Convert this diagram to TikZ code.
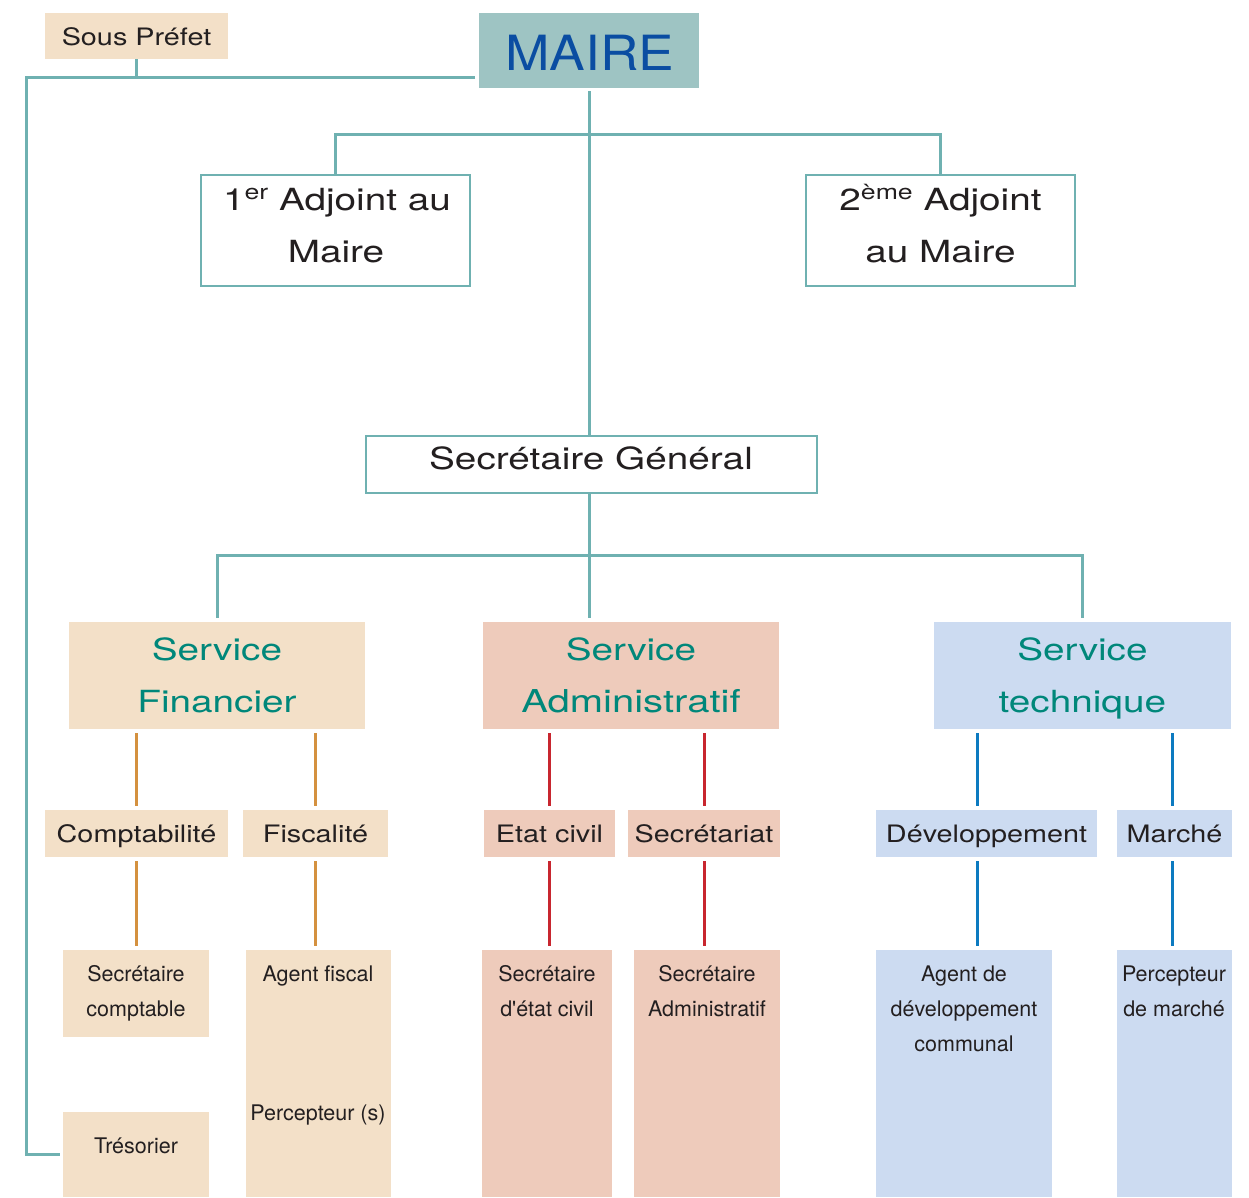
\documentclass[tikz,border=0pt]{standalone}
\usepackage{fontspec}
\setmainfont{TeX Gyre Heros}
\newfontfamily\mairef{TeX Gyre Heros}[FakeStretch=1.1]
\newfontfamily\widef{TeX Gyre Heros}[FakeStretch=1.27]
\newfontfamily\midf{TeX Gyre Heros}[FakeStretch=1.2]
\definecolor{cbeige}{HTML}{F3E0C8}
\definecolor{csalmon}{HTML}{EECBBB}
\definecolor{cblue}{HTML}{CCDBF1}
\definecolor{cmairebg}{HTML}{9EC4C3}
\definecolor{cmairetx}{HTML}{0A4DA2}
\definecolor{cteal}{HTML}{6FB1B1}
\definecolor{cserv}{HTML}{00877A}
\definecolor{corange}{HTML}{D4913F}
\definecolor{cred}{HTML}{C8262F}
\definecolor{cline}{HTML}{0C7AC0}
\definecolor{ctext}{HTML}{231F20}
\begin{document}
\begin{tikzpicture}[x=1pt,y=-1pt,
  bx/.style={rectangle, inner sep=0pt, outer sep=0pt, anchor=north west},
  beigebox/.style={bx, fill=cbeige},
  salmonbox/.style={bx, fill=csalmon},
  bluebox/.style={bx, fill=cblue},
  outbox/.style={bx, draw=cteal, line width=2.5pt, fill=white},
  lbl/.style={anchor=base, inner sep=0pt, text=ctext},
  fmaire/.style={lbl, font=\mairef\fontsize{48.5}{48.5}\selectfont, text=cmairetx},
  fwide/.style={lbl, font=\widef\fontsize{30.5}{30.5}\selectfont},
  fserv/.style={lbl, font=\widef\fontsize{30.5}{30.5}\selectfont, text=cserv},
  fmid/.style={lbl, font=\midf\fontsize{24}{24}\selectfont},
  fsmall/.style={lbl, font=\fontsize{21.5}{21.5}\selectfont},
  tealln/.style={draw=cteal, line width=3pt},
  orln/.style={draw=corange, line width=3pt, shorten <=4pt, shorten >=4pt},
  redln/.style={draw=cred, line width=3pt, shorten <=4pt, shorten >=4pt},
  blueln/.style={draw=cline, line width=3pt, shorten <=4pt, shorten >=4pt}
]
\useasboundingbox (0,0) rectangle (1249,1197);

% ---- boxes ----
\node[beigebox, minimum width=183pt, minimum height=46pt] (sp) at (45,13) {};
\node[bx, fill=cmairebg, minimum width=220pt, minimum height=75pt] (maire) at (479,13) {};
\node[outbox, minimum width=269pt, minimum height=111pt] (a1) at (201,175) {};
\node[outbox, minimum width=269pt, minimum height=111pt] (a2) at (806,175) {};
\node[outbox, minimum width=451pt, minimum height=57pt] (sg) at (366,436) {};

\node[beigebox, minimum width=296pt, minimum height=107pt] (sf) at (69,622) {};
\node[salmonbox, minimum width=296pt, minimum height=107pt] (sadm) at (483,622) {};
\node[bluebox, minimum width=297pt, minimum height=107pt] (st) at (934,622) {};

\node[beigebox, minimum width=183pt, minimum height=47pt] (comp) at (45,810) {};
\node[beigebox, minimum width=145pt, minimum height=47pt] (fisc) at (243,810) {};
\node[salmonbox, minimum width=131pt, minimum height=47pt] (etat) at (484,810) {};
\node[salmonbox, minimum width=152pt, minimum height=47pt] (secr) at (628,810) {};
\node[bluebox, minimum width=221pt, minimum height=47pt] (dev) at (876,810) {};
\node[bluebox, minimum width=115pt, minimum height=47pt] (mar) at (1117,810) {};

\node[beigebox, minimum width=146pt, minimum height=87pt] (sc) at (63,950) {};
\node[beigebox, minimum width=146pt, minimum height=85pt] (tres) at (63,1112) {};
\node[beigebox, minimum width=145pt, minimum height=247pt] (af) at (246,950) {};
\node[salmonbox, minimum width=130pt, minimum height=247pt] (sec) at (482,950) {};
\node[salmonbox, minimum width=146pt, minimum height=247pt] (sa) at (634,950) {};
\node[bluebox, minimum width=176pt, minimum height=247pt] (ad) at (876,950) {};
\node[bluebox, minimum width=115pt, minimum height=247pt] (pm) at (1117,950) {};

% ---- texts ----
\node[fmid] (tsp) at (136.5,45.5) {Sous Préfet};
\node[fmaire] (tmaire) at (590,70) {MAIRE};
\node[fwide] (ta1a) at (337,210) {1\raisebox{11pt}{\fontsize{21}{21}\selectfont er} Adjoint au};
\node[fwide] (ta1b) at (336,262) {Maire};
\node[fwide] (ta2a) at (940.5,210) {2\raisebox{11pt}{\fontsize{21}{21}\selectfont ème} Adjoint};
\node[fwide] (ta2b) at (940.5,262) {au Maire};
\node[fwide] (tsg) at (591,469) {Secrétaire Général};

\node[fserv] (tsf1) at (217,660) {Service};
\node[fserv] (tsf2) at (217,712) {Financier};
\node[fserv] (tsa1) at (631,660) {Service};
\node[fserv, font=\widef\fontsize{31.5}{31.5}\selectfont] (tsa2) at (631,712) {Administratif};
\node[fserv] (tst1) at (1082.5,660) {Service};
\node[fserv] (tst2) at (1082.5,712) {technique};

\node[fmid] (tcomp) at (136.5,842) {Comptabilité};
\node[fmid] (tfisc) at (315.5,842) {Fiscalité};
\node[fmid] (tetat) at (549.5,842) {Etat civil};
\node[fmid] (tsecr) at (704,842) {Secrétariat};
\node[fmid] (tdev) at (986.5,842) {Développement};
\node[fmid] (tmar) at (1174.5,842) {Marché};

\node[fsmall] (tsc1) at (136,981) {Secrétaire};
\node[fsmall] (tsc2) at (136,1016) {comptable};
\node[fsmall] (ttres) at (136,1153) {Trésorier};
\node[fsmall] (taf1) at (318,981) {Agent fiscal};
\node[fsmall] (taf2) at (318,1120) {Percepteur (s)};
\node[fsmall] (tsec1) at (547,981) {Secrétaire};
\node[fsmall] (tsec2) at (547,1016) {d\textquotesingle état civil};
\node[fsmall] (tsa1b) at (707,981) {Secrétaire};
\node[fsmall] (tsa2b) at (707,1016) {Administratif};
\node[fsmall] (tad1) at (964,981) {Agent de};
\node[fsmall] (tad2) at (964,1016) {développement};
\node[fsmall] (tad3) at (964,1051) {communal};
\node[fsmall] (tpm1) at (1174,981) {Percepteur};
\node[fsmall] (tpm2) at (1174,1016) {de marché};

% ---- connectors ----
\coordinate (mleft) at (475,77);
\coordinate (corner) at (26,77);
\draw[tealln] (mleft) -- (corner) |- ([xshift=-3pt]tres.west);
\draw[tealln] (sp.south) -- (sp.south |- mleft);
\draw[tealln] ([yshift=-3pt]maire.south) -- (maire.south |- sg.north);
\draw[tealln] (a1.north) -- ++(0,-41) -| (a2.north);
\coordinate (hj2) at (589,555);
\draw[tealln] (sg.south -| maire.south) -- ([yshift=4pt]sadm.north -| maire.south);
\draw[tealln] ([yshift=4pt]sf.north) |- (hj2) -| ([yshift=4pt]st.north);

\draw[orln] (sf.south -| comp.north) -- (comp.north);
\draw[orln] (sf.south -| fisc.north) -- (fisc.north);
\draw[redln] (sadm.south -| etat.north) -- (etat.north);
\draw[redln] (sadm.south -| secr.north) -- (secr.north);
\draw[blueln] (st.south -| dev.north) ++(-9.5,0) -- ([xshift=-9.5pt]dev.north);
\draw[blueln] (st.south -| mar.north) ++(-2.5,0) -- ([xshift=-2.5pt]mar.north);

\draw[orln] (comp.south) -- (comp.south |- sc.north);
\draw[orln] (fisc.south) -- (fisc.south |- af.north);
\draw[redln] (etat.south) -- (etat.south |- sec.north);
\draw[redln] (secr.south) -- (secr.south |- sa.north);
\draw[blueln] ([xshift=-9.5pt]dev.south) -- ([xshift=-9.5pt]dev.south |- ad.north);
\draw[blueln] ([xshift=-2.5pt]mar.south) -- ([xshift=-2.5pt]mar.south |- pm.north);
\end{tikzpicture}
\end{document}
